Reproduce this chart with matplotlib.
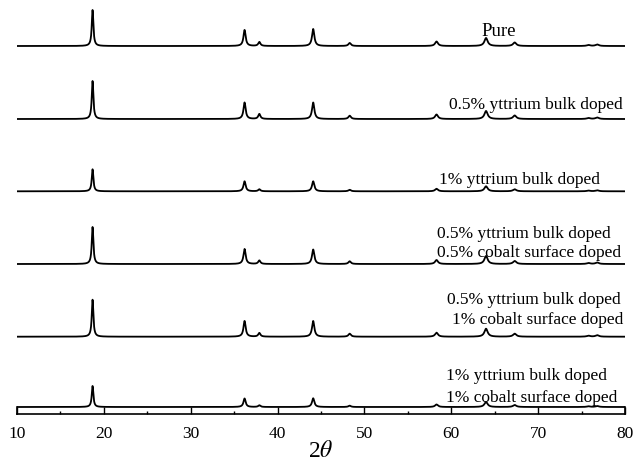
import numpy as np
import matplotlib
matplotlib.use("Agg")
import matplotlib.pyplot as plt

plt.rcParams["mathtext.fontset"] = "stix"

#----------------------------------DATA----------------------------------
# posizioni dei picchi (2theta)
peak_pos = [18.7, 36.2, 37.9, 44.1, 48.3, 58.3, 64.0, 67.3, 75.8, 76.8]
peak_fwhm = [0.22, 0.3, 0.3, 0.32, 0.34, 0.4, 0.45, 0.45, 0.45, 0.45]

samples = [
    "Pure",
    "0.5% yttrium bulk doped",
    "1% yttrium bulk doped",
    "0.5% yttrium bulk doped\n0.5% cobalt surface doped",
    "0.5% yttrium bulk doped\n1% cobalt surface doped",
    "1% yttrium bulk doped\n1% cobalt surface doped",
]

# altezze dei picchi per ogni campione (stesse unita' della scala y)
h_pure = [36, 16, 4, 17, 3, 4.5, 8, 3.5, 1, 1.5]
h_y05 = [38, 16.5, 5, 16.5, 3.3, 4.5, 8, 3.5, 1, 1.5]
h_y1 = [22, 10, 2, 10, 1.5, 2.5, 5, 2, 0.7, 1]
h_y05_co05 = [37, 15, 3.5, 14.5, 2.7, 4, 8, 3, 1, 1.5]
h_y05_co1 = [37, 15.7, 3.7, 15.7, 3, 4, 8, 3, 1, 1.5]
h_y1_co1 = [21, 8.5, 1.7, 8.7, 1.3, 2.5, 5, 2, 0.7, 1]
heights = [h_pure, h_y05, h_y1, h_y05_co05, h_y05_co1, h_y1_co1]

#----------------------------------LAYOUT----------------------------------
offsets = [368, 295, 222.7, 150, 77.3, 7]
# posizione centro etichette (x in 2theta, y nella scala verticale), una per riga
label_lines = [
    [(65.5, 383)],
    [(69.75, 310)],
    [(67.9, 235)],
    [(68.3, 181), (68.9, 162)],
    [(69.5, 115), (70.0, 95)],
    [(68.7, 39), (69.3, 17)],
]


def pattern(x, heights):
    y = np.zeros_like(x)
    for p, w, h in zip(peak_pos, peak_fwhm, heights):
        g = w / 2
        y += h * g**2 / ((x - p) ** 2 + g**2)
    return y


x = np.linspace(10, 80, 7001)

fig = plt.figure(figsize=(6.37, 4.64), dpi=100)
ax = fig.add_axes([17 / 637, 49 / 464, 608 / 637, 415 / 464])

for h, off in zip(heights, offsets):
    ax.plot(x, pattern(x, h) + off, color="black", lw=1.3)

for name, pos in zip(samples, label_lines):
    for line, (tx, ty) in zip(name.split("\n"), pos):
        fs = 13.5 if line == "Pure" else 12.5
        ax.text(tx, ty, line, ha="center", va="center",
                family="Liberation Serif", fontsize=fs)

ax.set_xlim(10, 80)
ax.set_ylim(0, 415)

# asse a "righello" in basso
ax.spines["top"].set_visible(False)
ax.spines["left"].set_bounds(0, offsets[-1])
ax.spines["right"].set_bounds(0, offsets[-1])
for s in ax.spines.values():
    s.set_linewidth(1.2)
ax.set_yticks([])
ax.set_xticks(np.arange(10, 81, 10))
ax.set_xticks(np.arange(15, 80, 10), minor=True)
ax.tick_params(axis="x", which="major", direction="in", length=5, width=1.0, pad=8)
ax.tick_params(axis="x", which="minor", direction="in", length=2.5, width=1.0)
for lbl in ax.get_xticklabels():
    lbl.set_family("Liberation Serif")
    lbl.set_fontsize(12.5)

ax.set_xlabel(r"2$\theta$", family="Liberation Serif", fontsize=17, labelpad=-1)

fig.savefig("out.png", dpi=100)
